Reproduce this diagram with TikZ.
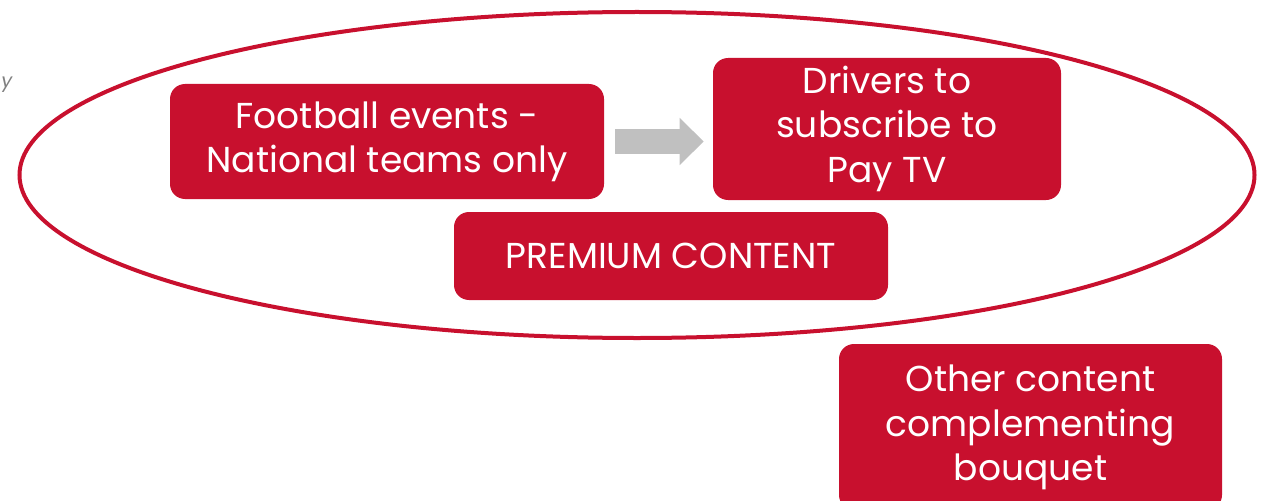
\documentclass[tikz,border=0pt]{standalone}
\usepackage{fontspec}
\setmainfont{Poppins}
\usepackage{tikz}
\usetikzlibrary{shapes.geometric,arrows.meta}
\usepackage{xcolor}
\definecolor{tvred}{RGB}{200,16,46}
\definecolor{arrowgray}{RGB}{192,192,192}

\tikzset{
  redbox/.style={rectangle, fill=tvred, rounded corners=0.3cm, inner sep=0pt,
    text=white, font=\fontsize{20.5pt}{25.6pt}\selectfont},
  bigarrow/.style={draw=arrowgray, line width=0.5cm,
    -{Triangle[width=0.92cm, length=0.48cm]}}
}

\begin{document}
\begin{tikzpicture}
      \useasboundingbox (0, 0) rectangle (25.46, -10.02);
      \clip (0, 0) rectangle (25.46, -10.02);

      \node (edge) [anchor=base west, inner sep=0pt, text=gray,
        font=\fontsize{11pt}{13pt}\selectfont\itshape] at (0.02, -1.74) {y};

      \node (ring) [ellipse, draw=tvred, line width=0.08cm, minimum width=24.7cm,
        minimum height=6.52cm, inner sep=0pt] at (12.74, -3.5) {};

      \node (A) [redbox, minimum width=8.68cm, minimum height=2.3cm] at (7.74, -2.83) {
        \begin{tabular}{c}
          Football events - \\
          National teams only
        \end{tabular}
      };
      \node (B) [redbox, minimum width=6.96cm, minimum height=2.84cm] at (17.74, -2.58) {
        \begin{tabular}{c}
          Drivers to \\
          subscribe to \\
          Pay TV
        \end{tabular}
      };
      \node (C) [redbox, minimum width=8.68cm, minimum height=1.76cm] at (13.42, -5.12) {
        PREMIUM CONTENT
      };
      \node (D) [redbox, minimum width=7.66cm, minimum height=3.32cm] at (20.61, -8.54) {
        \begin{tabular}{c}
          Other content \\
          complementing \\
          bouquet
        \end{tabular}
      };

      \draw[bigarrow, shorten <=0.22cm, shorten >=0.18cm] (A.east) -- (A.east -| B.west);
    \end{tikzpicture}
\end{document}
